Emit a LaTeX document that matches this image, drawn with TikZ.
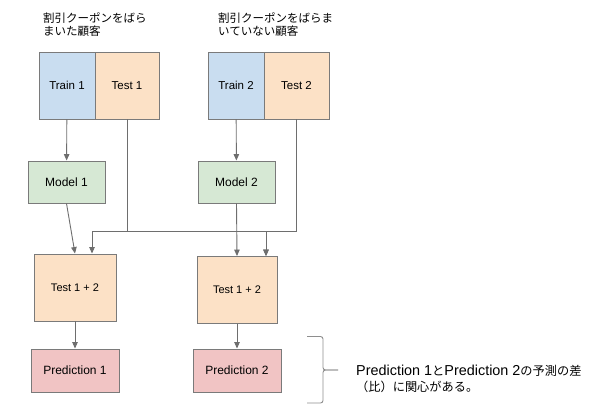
\documentclass[tikz,border=0pt]{standalone}
\usepackage{fontspec}
\setmainfont{Liberation Sans}
\newfontfamily\jp{Noto Sans CJK JP}
\usetikzlibrary{arrows.meta,calc}
\definecolor{bluef}{HTML}{C9DDF0}
\definecolor{orangef}{HTML}{FCE1C6}
\definecolor{greenf}{HTML}{D6E8D4}
\definecolor{redf}{HTML}{F1C4C4}
\definecolor{edge}{HTML}{7A7A7A}
\definecolor{lineg}{HTML}{6E6E6E}
\begin{document}
\begin{tikzpicture}[x=1pt,y=-1pt,
  box/.style={draw=edge,line width=0.9pt,inner sep=0pt,anchor=center},
  trainbox/.style={box,fill=bluef,minimum width=56pt,minimum height=67pt,font=\fontsize{11.5}{13}\selectfont},
  testbox/.style={box,fill=orangef,minimum height=67pt,font=\fontsize{11.5}{13}\selectfont},
  modelbox/.style={box,fill=greenf,minimum width=77pt,minimum height=42pt,font=\fontsize{12}{14}\selectfont},
  mixbox/.style={box,fill=orangef,minimum height=67pt,font=\fontsize{11}{13}\selectfont},
  predbox/.style={box,fill=redf,minimum width=88pt,minimum height=43pt,font=\fontsize{12}{14}\selectfont},
  title/.style={anchor=north west,align=left,inner sep=0pt,font=\jp\fontsize{11.5}{13}\selectfont},
  arr/.style={draw=lineg,line width=0.9pt,-{Triangle[length=6.5pt,width=5.5pt]}},
  ln/.style={draw=lineg,line width=0.9pt}
]
\useasboundingbox (0,0) rectangle (600,419);

\node[title] (ttl1) at (43,13) {割引クーポンをばら\\まいた顧客};
\node[title] (ttl2) at (218,13) {割引クーポンをばらま\\いていない顧客};

\node[trainbox] (train1) at (67,85.5) {Train 1};
\node[testbox,minimum width=64pt] (test1) at (127,85.5) {Test 1};
\node[trainbox] (train2) at (236,85.5) {Train 2};
\node[testbox,minimum width=65pt] (test2) at (296.5,85.5) {Test 2};

\node[modelbox] (model1) at (66.5,182) {Model 1};
\node[modelbox] (model2) at (236.5,182) {Model 2};

\node[mixbox,minimum width=82pt] (mixA) at (75,287.5) {Test 1 + 2};
\node[mixbox,minimum width=80pt] (mixB) at (237,290) {Test 1 + 2};

\node[predbox] (pred1) at (75,370.5) {Prediction 1};
\node[predbox] (pred2) at (237,370.5) {Prediction 2};

\coordinate (bus) at (0,231);
\coordinate (inA) at ($(mixA.north)+(17,0)$);
\coordinate (inB) at ($(mixB.north)+(29,0)$);

\draw[arr] (train1) -- (model1);
\draw[arr] (train2) -- (model2);
\draw[arr] (model1.south) -- (mixA.north);
\draw[arr] (model2.south) -- (mixB.north);
\draw[arr] (test1.south) -- (test1.south |- bus) -| (inA);
\draw[arr] (test1.south) -- (test1.south |- bus) -| (inB);
\draw[arr] (test2.south) -- (test2.south |- bus) -| (inB);
\draw[ln] (test2.south |- bus) -- (test1.south |- bus);
\draw[arr] (mixA) -- (pred1);
\draw[arr] (mixB) -- (pred2);

\coordinate (brtop) at (307,336.5);
\coordinate (brbot) at (307,403);
\coordinate (brtip) at (338,370);
\draw[draw=edge!85,line width=0.9pt,rounded corners=2.5pt]
  (brtop) -- (323,336.5) -- (323,370) -- (brtip);
\draw[draw=edge!85,line width=0.9pt,rounded corners=2.5pt]
  (brtip) -- (323,370) -- (323,403) -- (brbot);

\node[anchor=west,align=left,inner sep=0pt,font=\fontsize{14.4}{16}\selectfont] (note) at (356,379)
  {Prediction 1{\jp\fontsize{12.2}{16}\selectfont と}Prediction 2{\jp\fontsize{12.2}{16}\selectfont の予測の差}\\
   {\jp\fontsize{12.2}{16}\selectfont （比）に関心がある。}};
\end{tikzpicture}
\end{document}
